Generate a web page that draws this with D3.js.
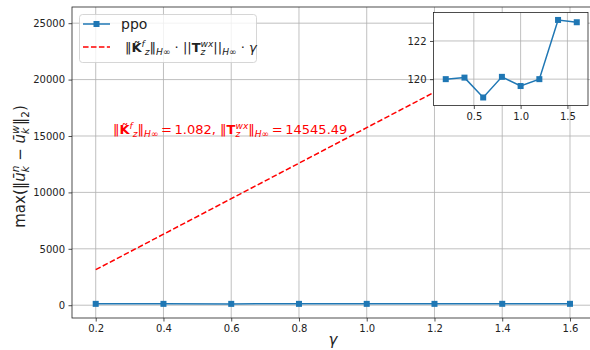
<!DOCTYPE html>
<html><head><meta charset="utf-8">
<script src="https://cdn.jsdelivr.net/npm/d3@7"></script>
<style>body{margin:0;background:#fff}svg{display:block;font-family:"DejaVu Sans",sans-serif}text{white-space:pre}</style>
</head><body><svg id="c" width="590" height="350"></svg>
<script>
const gammas = [0.2, 0.4, 0.6, 0.8, 1.0, 1.2, 1.4, 1.6];
const ppoValues = [120.0, 120.08, 119.04, 120.12, 119.64, 120.0, 123.1, 122.98];
const boundValues = [3147.64, 6295.29, 9442.93, 12590.58, 15738.22, 18885.86, 22033.51, 25181.15];
const xTicks = [0.2, 0.4, 0.6, 0.8, 1.0, 1.2, 1.4, 1.6];
const yTicks = [0, 5000, 10000, 15000, 20000, 25000];
const insetXTicks = [0.5, 1.0, 1.5];
const insetYTicks = [120, 122];

const svg = d3.select('#c');
const blue = '#1f77b4', red = '#ff0000', grid = '#b0b0b0', ink = '#222';
const L = 72, R = 593.7, T = 7, B = 318;
const x = d3.scaleLinear().domain([0.13, 1.67]).range([L, R]);
const y = d3.scaleLinear().domain([-1133, 26434]).range([B, T]);

svg.append('clipPath').attr('id','clipMain').append('rect').attr('x',L).attr('y',T).attr('width',R-L).attr('height',B-T);

// grid
const gg = svg.append('g');
xTicks.forEach(t => gg.append('line').attr('x1',x(t)).attr('x2',x(t)).attr('y1',T).attr('y2',B).attr('stroke',grid).attr('stroke-width',0.8));
yTicks.forEach(t => gg.append('line').attr('x1',L).attr('x2',R).attr('y1',y(t)).attr('y2',y(t)).attr('stroke',grid).attr('stroke-width',0.8));

// axes
const xa = svg.append('g').attr('transform',`translate(0,${B})`).call(d3.axisBottom(x).tickValues(xTicks).tickFormat(d3.format('.1f')).tickSizeOuter(0).tickSize(3.5).tickPadding(3.5));
const ya = svg.append('g').attr('transform',`translate(${L},0)`).call(d3.axisLeft(y).tickValues(yTicks).tickFormat(d3.format('d')).tickSizeOuter(0).tickSize(3.5).tickPadding(3.5));
[xa, ya].forEach(a => { a.select('.domain').remove(); a.selectAll('line').attr('stroke',ink).attr('stroke-width',0.8); a.selectAll('text').attr('fill',ink).attr('font-size',10).attr('font-family','DejaVu Sans'); });

// data
const pm = svg.append('g').attr('clip-path','url(#clipMain)');
const lineGen = (xs, ys) => d3.line().x((d,i)=>xs(gammas[i])).y(d=>ys(d));
pm.append('path').datum(boundValues).attr('d', lineGen(x,y)).attr('fill','none').attr('stroke',red).attr('stroke-width',1.5).attr('stroke-dasharray','5.55,2.4');
pm.append('path').datum(ppoValues).attr('d', lineGen(x,y)).attr('fill','none').attr('stroke',blue).attr('stroke-width',1.5);
pm.selectAll('rect.m').data(ppoValues).enter().append('rect').attr('x',(d,i)=>x(gammas[i])-3).attr('y',d=>y(d)-3).attr('width',6).attr('height',6).attr('fill',blue);

// spines
svg.append('rect').attr('x',L).attr('y',T).attr('width',R-L).attr('height',B-T).attr('fill','none').attr('stroke',ink).attr('stroke-width',0.8);

// math text helper
function mathText(parent, x0, y0, fs, parts, fill) {
  const t = parent.append('text').attr('fill', fill).attr('font-size', fs);
  let cx = x0, lastStart = x0;
  parts.forEach(p => {
    const lvl = p.l || 0;
    const size = lvl ? fs * 0.7 : fs;
    const dy = lvl === 1 ? -fs * 0.42 : lvl === -1 ? fs * 0.25 : 0;
    const px = p.stack ? lastStart : cx + (p.dx || 0);
    const sp = t.append('tspan').attr('x', px).attr('y', y0 + dy).attr('font-size', size).text(p.t);
    if (p.b) sp.attr('font-weight', 'bold');
    if (p.i) sp.attr('font-style', 'italic');
    const w = sp.node().getComputedTextLength();
    if (p.stack) cx = Math.max(cx, px + w); else { lastStart = px; cx = px + w; }
  });
  return { node: t, width: cx - x0 };
}

// annotation
mathText(svg, 113, 134, 13, [
  {t:'‖'}, {t:'K\u0303', b:true}, {t:'f', l:1, i:true}, {t:'z', l:-1, i:true}, {t:'‖'}, {t:'H', l:-1, i:true}, {t:'∞', l:-1},
  {t:'\u2009=\u20091.082, ‖'}, {t:'T', b:true}, {t:'wx', l:1, i:true}, {t:'z', l:-1, i:true, stack:true}, {t:'‖'}, {t:'H', l:-1, i:true}, {t:'∞', l:-1},
  {t:'\u2009=\u200914545.49'}
], red);

// y label
const yl = svg.append('g');
const ylt = mathText(yl, 0, 0, 15, [
  {t:'max(‖'}, {t:'ū', i:true}, {t:'n', l:1, i:true}, {t:'k', l:-1, i:true, stack:true}, {t:' − '}, {t:'ū', i:true}, {t:'w', l:1, i:true}, {t:'k', l:-1, i:true, stack:true}, {t:'‖'}, {t:'2', l:-1}, {t:')'}
], ink);
ylt.node.attr('transform', `translate(${-ylt.width/2},0)`);
yl.attr('transform', `translate(25,${(T+B)/2 + 4}) rotate(-90)`);

// x label
svg.append('text').attr('x', x(0.9)).attr('y', 345).attr('text-anchor','middle').attr('font-size',15).attr('font-style','italic').attr('fill',ink).text('γ');

// legend
const lg = svg.append('g');
lg.append('rect').attr('x',79.5).attr('y',14.5).attr('width',177).attr('height',48).attr('rx',3).attr('fill','#fff').attr('fill-opacity',0.8).attr('stroke','#ccc').attr('stroke-width',0.8);
lg.append('line').attr('x1',83).attr('x2',110).attr('y1',24).attr('y2',24).attr('stroke',blue).attr('stroke-width',1.5);
lg.append('rect').attr('x',93.5).attr('y',21).attr('width',6).attr('height',6).attr('fill',blue);
lg.append('text').attr('x',121).attr('y',29).attr('font-size',14).attr('fill',ink).text('ppo');
lg.append('line').attr('x1',83).attr('x2',110).attr('y1',47).attr('y2',47).attr('stroke',red).attr('stroke-width',1.5).attr('stroke-dasharray','5.55,2.4');
mathText(lg, 125, 52, 13, [
  {t:'‖'}, {t:'K\u0303', b:true}, {t:'f', l:1, i:true}, {t:'z', l:-1, i:true}, {t:'‖'}, {t:'H', l:-1, i:true}, {t:'∞', l:-1},
  {t:' · ||'}, {t:'T', b:true}, {t:'wx', l:1, i:true}, {t:'z', l:-1, i:true, stack:true}, {t:'||'}, {t:'H', l:-1, i:true}, {t:'∞', l:-1},
  {t:' · '}, {t:'γ', i:true}
], ink);

// inset
const iL = 433.5, iR = 588, iT = 12.5, iB = 105.5;
const ix = d3.scaleLinear().domain([0.069, 1.72]).range([iL, iR]);
const iy = d3.scaleLinear().domain([118.62, 123.49]).range([iB, iT]);
const ig = svg.append('g');
ig.append('rect').attr('x',iL).attr('y',iT).attr('width',iR-iL).attr('height',iB-iT).attr('fill','#fff');
svg.append('clipPath').attr('id','clipIn').append('rect').attr('x',iL).attr('y',iT).attr('width',iR-iL).attr('height',iB-iT);
insetXTicks.forEach(t => ig.append('line').attr('x1',ix(t)).attr('x2',ix(t)).attr('y1',iT).attr('y2',iB).attr('stroke',grid).attr('stroke-width',0.8));
insetYTicks.forEach(t => ig.append('line').attr('x1',iL).attr('x2',iR).attr('y1',iy(t)).attr('y2',iy(t)).attr('stroke',grid).attr('stroke-width',0.8));
const ixa = ig.append('g').attr('transform',`translate(0,${iB})`).call(d3.axisBottom(ix).tickValues(insetXTicks).tickFormat(d3.format('.1f')).tickSizeOuter(0).tickSize(3.5).tickPadding(3.5));
const iya = ig.append('g').attr('transform',`translate(${iL},0)`).call(d3.axisLeft(iy).tickValues(insetYTicks).tickFormat(d3.format('d')).tickSizeOuter(0).tickSize(3.5).tickPadding(3.5));
[ixa, iya].forEach(a => { a.select('.domain').remove(); a.selectAll('line').attr('stroke',ink).attr('stroke-width',0.8); a.selectAll('text').attr('fill',ink).attr('font-size',10).attr('font-family','DejaVu Sans'); });
const ip = ig.append('g').attr('clip-path','url(#clipIn)');
ip.append('path').datum(ppoValues).attr('d', lineGen(ix,iy)).attr('fill','none').attr('stroke',blue).attr('stroke-width',1.5);
ip.selectAll('rect.m').data(ppoValues).enter().append('rect').attr('x',(d,i)=>ix(gammas[i])-3).attr('y',d=>iy(d)-3).attr('width',6).attr('height',6).attr('fill',blue);
ig.append('rect').attr('x',iL).attr('y',iT).attr('width',iR-iL).attr('height',iB-iT).attr('fill','none').attr('stroke',ink).attr('stroke-width',0.8);
</script></body></html>
